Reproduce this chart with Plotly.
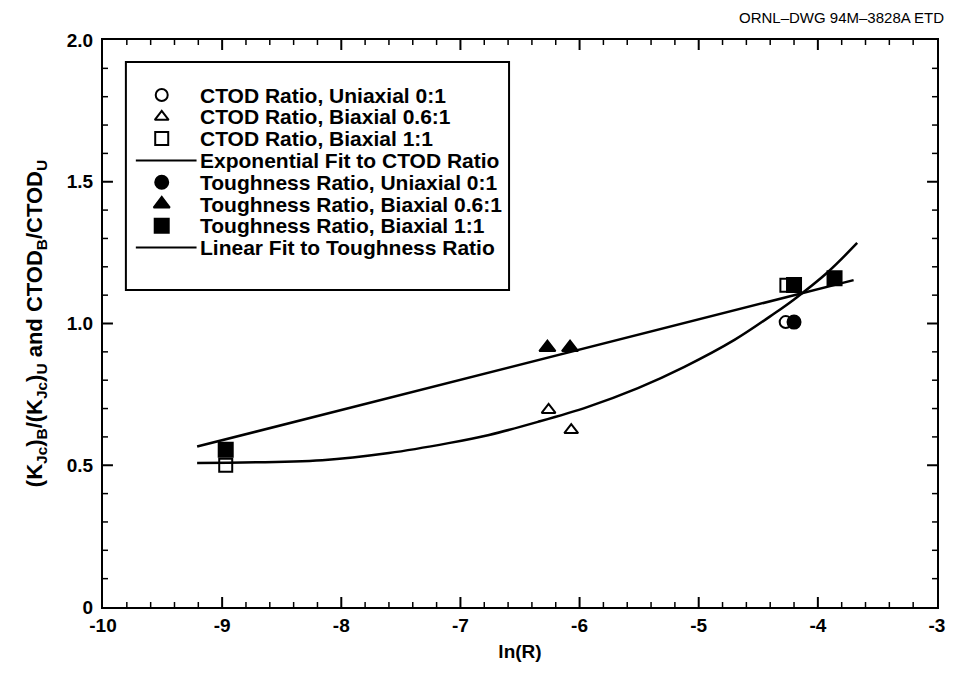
import plotly.graph_objects as go

# Measured ratios versus ln(R)
ctod_uni_x = [-4.27]
ctod_uni_y = [1.005]
ctod_bi06_x = [-6.26, -6.07]
ctod_bi06_y = [0.695, 0.624]
ctod_bi11_x = [-8.97, -4.26]
ctod_bi11_y = [0.50, 1.135]

tough_uni_x = [-4.20]
tough_uni_y = [1.005]
tough_bi06_x = [-6.27, -6.08]
tough_bi06_y = [0.915, 0.915]
tough_bi11_x = [-8.97, -4.20, -3.86]
tough_bi11_y = [0.555, 1.136, 1.16]

# Fitted curves
exp_fit_x = [-9.21, -8.16, -7.60, -7.10, -6.76, -6.35, -5.93, -5.51, -5.12,
             -4.70, -4.36, -4.20, -3.92, -3.67]
exp_fit_y = [0.508, 0.518, 0.543, 0.578, 0.607, 0.653, 0.706, 0.772, 0.847,
             0.942, 1.037, 1.085, 1.18, 1.284]
lin_fit_x = [-9.21, -3.70]
lin_fit_y = [0.566, 1.153]

x_ticks = [-10, -9, -8, -7, -6, -5, -4, -3]
x_tick_text = ["-10", "-9", "-8", "-7", "-6", "-5", "-4", "-3"]
y_ticks = [0, 0.5, 1.0, 1.5, 2.0]
y_tick_text = ["0", "0.5", "1.0", "1.5", "2.0"]

legend_labels = [
    "CTOD Ratio, Uniaxial 0:1",
    "CTOD Ratio, Biaxial 0.6:1",
    "CTOD Ratio, Biaxial 1:1",
    "Exponential Fit to CTOD Ratio",
    "Toughness Ratio, Uniaxial 0:1",
    "Toughness Ratio, Biaxial 0.6:1",
    "Toughness Ratio, Biaxial 1:1",
    "Linear Fit to Toughness Ratio",
]

FONT = "Liberation Sans"
W, H = 957, 678
ML, MR, MT, MB = 103, 16, 40, 71
PW, PH = W - ML - MR, H - MT - MB
X_RANGE, Y_RANGE = (-10, -3), (0, 2.0)


def px_x(px):
    return (px - ML) / PW


def px_y(py):
    return (H - MB - py) / PH


def bold(s):
    return "<b>" + s + "</b>"


# marker style per key row (None means a line sample)
row_styles = [
    ("circle-open", 12), ("triangle-up-open", 12), ("square-open", 13), None,
    ("circle", 13), ("triangle-up", 14), ("square", 14), None,
]
series = [
    (ctod_uni_x, ctod_uni_y), (ctod_bi06_x, ctod_bi06_y), (ctod_bi11_x, ctod_bi11_y), None,
    (tough_uni_x, tough_uni_y), (tough_bi06_x, tough_bi06_y), (tough_bi11_x, tough_bi11_y), None,
]

fig = go.Figure()


# Inward tick marks on all four sides of the frame, drawn in axis units
def tick_segments(step, major_vals, major):
    x_len = 1.0 / PH * (Y_RANGE[1] - Y_RANGE[0])   # one pixel, in y units
    y_len = 1.0 / PW * (X_RANGE[1] - X_RANGE[0])   # one pixel, in x units
    length = 10 if major else 5
    xs, ys = [], []
    n = round((X_RANGE[1] - X_RANGE[0]) / step[0])
    for k in range(1, n):
        xv = round(X_RANGE[0] + k * step[0], 6)
        if (xv in major_vals[0]) != major:
            continue
        xs += [xv, xv, None, xv, xv, None]
        ys += [Y_RANGE[0], Y_RANGE[0] + length * x_len, None,
               Y_RANGE[1], Y_RANGE[1] - length * x_len, None]
    n = round((Y_RANGE[1] - Y_RANGE[0]) / step[1])
    for k in range(1, n):
        yv = round(Y_RANGE[0] + k * step[1], 6)
        if (yv in major_vals[1]) != major:
            continue
        xs += [X_RANGE[0], X_RANGE[0] + length * y_len, None,
               X_RANGE[1], X_RANGE[1] - length * y_len, None]
        ys += [yv, yv, None, yv, yv, None]
    return xs, ys


for major, width in ((True, 2), (False, 1.5)):
    tx, ty = tick_segments((0.2, 0.1), (x_ticks, y_ticks), major)
    fig.add_trace(go.Scatter(x=tx, y=ty, mode="lines", showlegend=False, hoverinfo="skip",
                             line=dict(color="black", width=width)))

fig.add_trace(go.Scatter(x=exp_fit_x, y=exp_fit_y, mode="lines", showlegend=False,
                         hoverinfo="skip",
                         line=dict(color="black", width=2.5, shape="spline")))
fig.add_trace(go.Scatter(x=lin_fit_x, y=lin_fit_y, mode="lines", showlegend=False,
                         hoverinfo="skip", line=dict(color="black", width=2.5)))

for label, style, data in zip(legend_labels, row_styles, series):
    if data is None:
        continue
    sym, size = style
    fig.add_trace(go.Scatter(x=data[0], y=data[1], mode="markers", name=label,
                             showlegend=False,
                             marker=dict(symbol=sym, size=size, color="black",
                                         line=dict(color="black", width=2))))

# Key box with symbols, line samples and labels
row_y0, row_step = 95, 21.8
sym_px, line_px0, line_px1, text_px = 162, 136, 197, 198
fig.add_shape(type="rect", xref="paper", yref="paper",
              x0=px_x(126), x1=px_x(511), y0=px_y(290), y1=px_y(62),
              line=dict(color="black", width=2), fillcolor="white", layer="below")
for i, (label, style) in enumerate(zip(legend_labels, row_styles)):
    py = row_y0 + i * row_step
    if style is None:
        fig.add_shape(type="line", xref="paper", yref="paper",
                      x0=px_x(line_px0), x1=px_x(line_px1), y0=px_y(py), y1=px_y(py),
                      line=dict(color="black", width=2), layer="above")
    else:
        sym, size = style
        fig.add_trace(go.Scatter(x=[px_x(sym_px)], y=[px_y(py)], xaxis="x2", yaxis="y2",
                                 mode="markers", showlegend=False, hoverinfo="skip",
                                 marker=dict(symbol=sym, size=size, color="black",
                                             line=dict(color="black", width=2))))
    fig.add_annotation(text=bold(label), xref="paper", yref="paper",
                       x=px_x(text_px), y=px_y(py), xanchor="left", yanchor="middle",
                       showarrow=False,
                       font=dict(family=FONT, size=21, color="black"))

axis_common = dict(showline=True, linecolor="black", linewidth=2, mirror=True,
                   ticks="", showgrid=False, zeroline=False,
                   tickfont=dict(family=FONT, size=19, color="black"))

fig.update_layout(
    xaxis=dict(range=list(X_RANGE), tickmode="array", tickvals=x_ticks,
               ticktext=[bold(t) for t in x_tick_text],
               title=dict(text=bold("ln(R)"), standoff=10,
                          font=dict(family=FONT, size=19, color="black")),
               **axis_common),
    yaxis=dict(range=list(Y_RANGE), tickmode="array", tickvals=y_ticks,
               ticktext=[bold(t) for t in y_tick_text],
               ticklabelstandoff=4,
               title=dict(text=bold("(K<sub>Jc</sub>)<sub>B</sub>/(K<sub>Jc</sub>)<sub>U</sub> and "
                                    "CTOD<sub>B</sub>/CTOD<sub>U</sub>"),
                          standoff=18,
                          font=dict(family=FONT, size=22, color="black")),
               **axis_common),
    xaxis2=dict(overlaying="x", anchor="y2", range=[0, 1], visible=False, fixedrange=True),
    yaxis2=dict(overlaying="y", anchor="x2", range=[0, 1], visible=False, fixedrange=True),
)

fig.add_annotation(text="ORNL–DWG 94M–3828A ETD", xref="paper", yref="paper",
                   x=px_x(950), y=px_y(18), xanchor="right", yanchor="middle", showarrow=False,
                   font=dict(family=FONT, size=15, color="black"))

fig.update_layout(
    width=W, height=H,
    margin=dict(l=ML, r=MR, t=MT, b=MB),
    paper_bgcolor="white", plot_bgcolor="white",
    showlegend=False,
)

fig.write_html("out.html")
